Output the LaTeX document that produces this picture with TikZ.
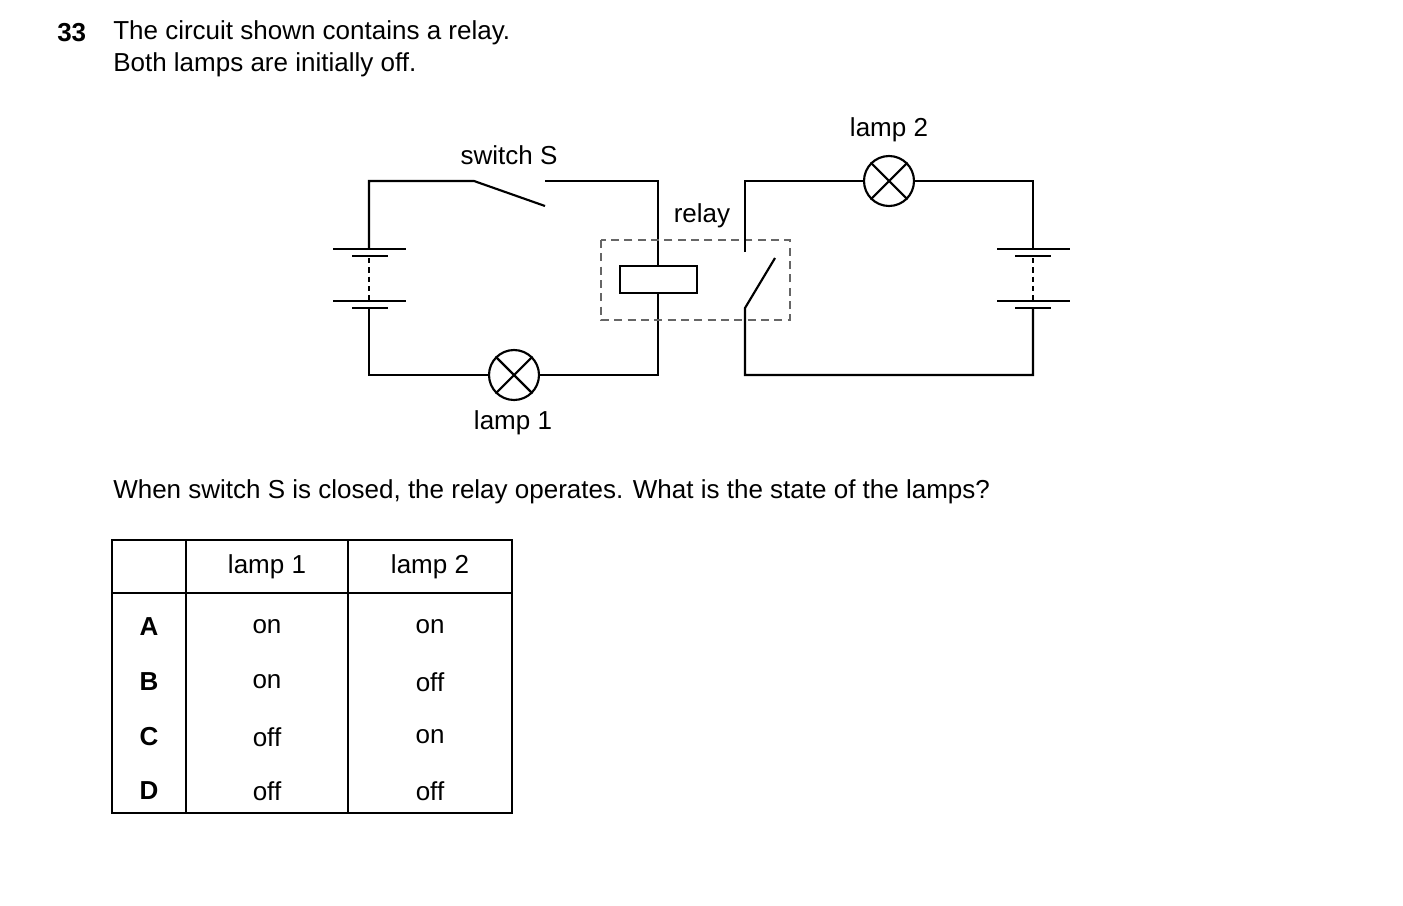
\documentclass[tikz,border=0pt]{standalone}
\usepackage{fontspec}
\setmainfont{Liberation Sans}
\begin{document}
\begin{tikzpicture}[x=0.75pt,y=-0.75pt,
  w/.style={line width=1.6pt},
  lampc/.style={circle,draw,line width=1.6pt,minimum size=37.5pt,inner sep=0pt},
  t/.style={font=\fontsize{19.5}{22}\selectfont,inner sep=0pt},
  cell/.style={t,anchor=center}]
\useasboundingbox (0,0) rectangle (1403,906);
\node[t,anchor=west,font=\fontsize{19.5}{22}\selectfont\bfseries] (q) at (57,33) {33};
\node[t,anchor=west] (l1) at (113,33) {The circuit shown contains a relay.};
\node[t,anchor=west] (l2) at (113,65) {Both lamps are initially off.};
% left circuit
\coordinate (a1) at (369,181); \coordinate (a2) at (474,181);
\coordinate (s2) at (545,206); \coordinate (a3) at (545,181);
\coordinate (a4) at (658,181);
\node[lampc] (L1) at (514,375) {};
\draw[w] (L1.north west)--(L1.south east) (L1.north east)--(L1.south west);
\draw[w] (369,249) -- (a1) -- (a2) -- (s2);
\draw[w] (a3) -- (a4) -- (658,266);
\draw[w] (658,293) -- (658,375) -- (L1.east);
\draw[w] (L1.west) -- (369,375) -- (369,308);
\draw[w] (333,249)--(406,249) (352,256)--(388,256) (333,301)--(406,301) (352,308)--(388,308);
\draw[w,dash pattern=on 4pt off 3pt] (369,258)--(369,300);
\node[t] (sw) at (509,155) {switch S};
\node[t] (lp1) at (513,423) {lamp 1};
% relay
\node[draw,line width=1.6pt,minimum width=57.75pt,minimum height=20.25pt,inner sep=0pt] (coil) at (658.5,279.5) {};
\draw[line width=0.8pt,gray!80!black,dash pattern=on 6pt off 4pt] (601,240) rectangle (790,320);
\node[t] (rl) at (702,216) {relay};
% right circuit
\node[lampc] (L2) at (889,181) {};
\draw[w] (L2.north west)--(L2.south east) (L2.north east)--(L2.south west);
\draw[w] (745,252) -- (745,181) -- (L2.west);
\draw[w] (L2.east) -- (1033,181) -- (1033,249);
\draw[w] (1033,308) -- (1033,375) -- (745,375) -- (745,308) -- (775,258);
\draw[w] (997,249)--(1070,249) (1015,256)--(1051,256) (997,301)--(1070,301) (1015,308)--(1051,308);
\draw[w,dash pattern=on 4pt off 3pt] (1033,258)--(1033,300);
\node[t] (lp2) at (889,130) {lamp 2};
\node[t,anchor=west] (qq) at (113,492) {When switch S is closed, the relay operates. What is the state of the lamps?};
% table
\draw[line width=1pt] (112,540) rectangle (512,813);
\draw[line width=1pt] (186,540)--(186,813) (348,540)--(348,813) (112,593)--(512,593);
\node[cell] at (267,567) {lamp 1}; \node[cell] at (430,567) {lamp 2};
\foreach \y/\L/\a/\b in {627/A/on/on,682/B/on/off,737/C/off/on,791/D/off/off}{
  \node[cell,font=\fontsize{19.5}{22}\selectfont\bfseries] at (149,\y) {\L};
  \node[cell] at (267,\y) {\a};
  \node[cell] at (430,\y) {\b};
}
\end{tikzpicture}
\end{document}
